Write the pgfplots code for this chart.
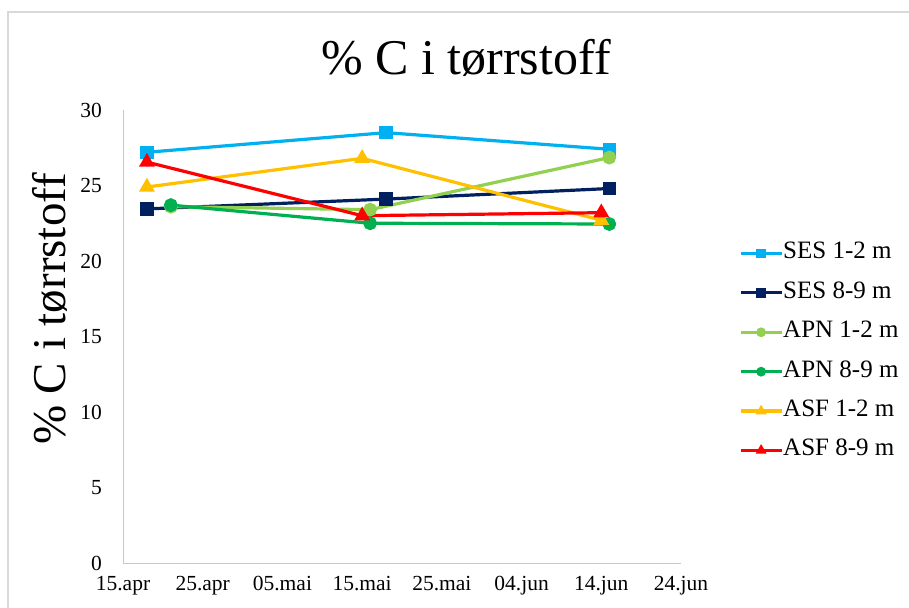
\documentclass[border=0pt]{standalone}
\usepackage{fontspec}
\setmainfont{Liberation Serif}
\usepackage{pgfplots}
\pgfplotsset{compat=1.18}

\definecolor{sesA}{RGB}{0,176,240}
\definecolor{sesB}{RGB}{0,32,96}
\definecolor{apnA}{RGB}{146,208,80}
\definecolor{apnB}{RGB}{0,176,80}
\definecolor{asfA}{RGB}{255,192,0}
\definecolor{asfB}{RGB}{255,0,0}
\definecolor{axisgray}{RGB}{200,200,200}
\definecolor{framegray}{RGB}{217,217,217}

\tikzset{series/.style={line width=3.2pt}}

\begin{document}
\begin{tikzpicture}
\useasboundingbox (0pt,0pt) rectangle (909pt,607pt);
% chart area frame
\draw[framegray, line width=2pt] (8pt,-2pt) -- (8pt,595pt) -- (912pt,595pt);
% title and y label
\node[anchor=base, inner sep=0pt] at (466pt,532pt) {\fontsize{50}{60}\selectfont \% C i tørrstoff};
\node[anchor=base, rotate=90, inner sep=0pt] at (65pt,298pt) {\fontsize{47}{56}\selectfont \% C i tørrstoff};

% x values are days after 15 April
\begin{axis}[
  at={(123pt,44pt)}, anchor=south west,
  scale only axis, width=558pt, height=453pt,
  xmin=0, xmax=70, ymin=0, ymax=30,
  axis x line*=bottom, axis y line*=left,
  axis line style={draw=axisgray, line width=1pt},
  major tick length=0pt,
  xtick={0,10,...,70},
  xticklabels={15.apr,25.apr,05.mai,15.mai,25.mai,04.jun,14.jun,24.jun},
  ytick={0,5,...,30},
  /pgf/number format/assume math mode=true,
  tick label style={font=\fontsize{21.5}{25}\selectfont, text=black},
  xticklabel style={anchor=north, inner sep=0pt, yshift=-13pt},
  yticklabel style={anchor=east, inner sep=0pt, xshift=-21pt},
  clip=false,
  legend image code/.code={
    \draw[mark repeat=2, mark phase=2, #1, mark size=3.2pt]
      plot coordinates {(0pt,0pt) (20.5pt,0pt) (41pt,0pt)};},
  legend cell align=left,
  legend style={
    at={(616pt,320pt)}, anchor=north west,
    draw=none, fill=none, inner sep=0pt, outer sep=0pt,
    font=\fontsize{25}{29}\selectfont,
    nodes={inner sep=0pt, text height=16pt, text depth=5pt},
    row sep=18.4pt,
    /tikz/every even column/.append style={column sep=5pt},
  },
]
\addplot[series, sesA, mark=square*, mark size=5pt] coordinates {(3,27.2) (33,28.5) (61,27.4)};
\addlegendentry{SES 1-2 m}
\addplot[series, sesB, mark=square*, mark size=5pt] coordinates {(3,23.45) (33,24.1) (61,24.8)};
\addlegendentry{SES 8-9 m}
\addplot[series, apnA, mark=*, mark size=5.3pt] coordinates {(6,23.6) (31,23.4) (61,26.85)};
\addlegendentry{APN 1-2 m}
\addplot[series, apnB, mark=*, mark size=5.3pt] coordinates {(6,23.7) (31,22.5) (61,22.45)};
\addlegendentry{APN 8-9 m}
\addplot[series, asfA, mark=triangle*, mark size=6pt] coordinates {(3,24.9) (30,26.8) (60,22.7)};
\addlegendentry{ASF 1-2 m}
\addplot[series, asfB, mark=triangle*, mark size=6pt] coordinates {(3,26.55) (30,23.0) (60,23.2)};
\addlegendentry{ASF 8-9 m}
\end{axis}
\end{tikzpicture}
\end{document}
